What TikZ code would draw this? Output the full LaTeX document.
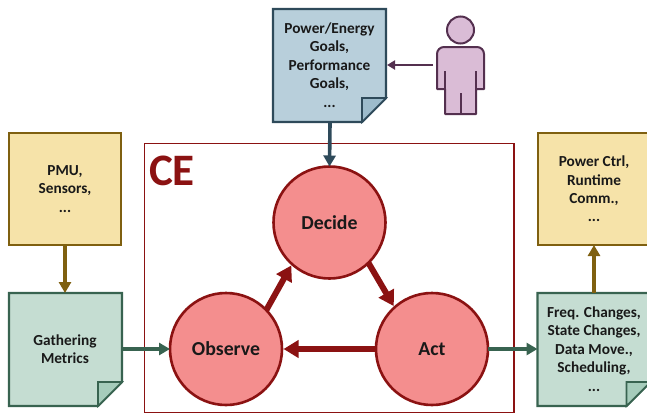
\documentclass[tikz,border=0pt]{standalone}
\usepackage{fontspec}
\setmainfont{Carlito}
\usetikzlibrary{arrows.meta}
\definecolor{bluefill}{HTML}{B8CFDB}
\definecolor{bluefold}{HTML}{9DBBCB}
\definecolor{bluedark}{HTML}{2E4A5A}
\definecolor{greenfill}{HTML}{C5DDD2}
\definecolor{greenfold}{HTML}{A6CCBB}
\definecolor{greendark}{HTML}{386350}
\definecolor{yellowfill}{HTML}{F6E3A9}
\definecolor{yellowdark}{HTML}{7F6010}
\definecolor{purplefill}{HTML}{DABCD6}
\definecolor{purpledark}{HTML}{54304F}
\definecolor{redfill}{HTML}{F48E8E}
\definecolor{reddark}{HTML}{8B1212}
\tikzset{
  boxlabel/.style={font=\fontsize{15.3}{18.4}\selectfont\bfseries, align=center, text=black!90, inner sep=0pt},
  yellowbox/.style={boxlabel, draw=yellowdark, fill=yellowfill, line width=2.4pt, minimum width=112pt, minimum height=112pt, outer sep=0pt, anchor=north west},
  phase/.style={circle, draw=reddark, fill=redfill, line width=2.6pt, minimum size=112pt, inner sep=0pt, outer sep=0pt, font=\fontsize{19.8}{22}\selectfont\bfseries, text=black!90},
  flow/.style={-{Triangle[length=11pt,width=12pt]}, line width=#1},
  flow/.default=3.6pt,
  heavy/.style={-{Triangle[length=15pt,width=17pt]}, line width=6pt, reddark, shorten >=1.5pt},
  note/.style={line width=2.2pt, line join=miter},
}
% name, left, top, fill, fold, stroke
\newcommand{\notesheet}[6]{%
  \path[note, draw=#6, fill=#4] (#2,#3) -- ++(113,0) -- ++(0,89) -- ++(-24,24) -- ++(-89,0) -- cycle;
  \path[note, draw=#6, fill=#5, line width=1.6pt] (#2+89,#3+113) -- ++(0,-24) -- ++(24,0) -- cycle;
  \node[minimum width=113pt, minimum height=113pt, inner sep=0pt, outer sep=0.5pt, anchor=north west] (#1) at (#2,#3) {};
}
\begin{document}
\begin{tikzpicture}[x=1pt,y=-1pt]
\useasboundingbox (0,0) rectangle (647,413);
\clip (0,0) rectangle (647,413);
% CE frame
\node[draw=reddark, line width=1.6pt, minimum width=369.5pt, minimum height=269pt, inner sep=0pt, anchor=north west] (frame) at (143.8,142.5) {};
\node[font=\fontsize{45}{47}\selectfont\bfseries, text=reddark, inner sep=0pt] (ce) at (172,171) {CE};
% notes
\notesheet{goals}{273}{9}{bluefill}{bluefold}{bluedark}
\node[boxlabel] (goalstext) at (329.5,65) {Power/Energy\\Goals,\\Performance\\Goals,\\...};
\notesheet{metrics}{9}{293}{greenfill}{greenfold}{greendark}
\node[boxlabel] (metricstext) at (65,349) {Gathering\\Metrics};
\notesheet{changes}{537.5}{293}{greenfill}{greenfold}{greendark}
\node[boxlabel] (changestext) at (594,349) {Freq. Changes,\\State Changes,\\Data Move.,\\Scheduling,\\...};
% yellow boxes
\node[yellowbox] (pmu) at (9,133) {PMU,\\Sensors,\\...};
\node[yellowbox, minimum width=112pt] (ctrl) at (538,133) {Power Ctrl,\\Runtime\\Comm.,\\...};
% person
\node[circle, draw=purpledark, fill=purplefill, line width=2pt, minimum size=27pt, inner sep=0pt] (head) at (460.5,30) {};
\path[draw=purpledark, fill=purplefill, line width=2pt, line join=round]
  (437,89) -- (437,54) arc[start angle=180,end angle=270,radius=7] -- (477,47) arc[start angle=270,end angle=360,radius=7] -- (484,89) -- (476,89) -- (476,114) -- (445,114) -- (445,89) -- cycle;
\draw[purpledark, line width=2pt] (445,71) -- (445,89) (476,71) -- (476,89) (460.5,93) -- (460.5,114);
\coordinate (personport) at (433,65);
% circles
\node[phase] (decide) at (329.5,222.5) {Decide};
\node[phase] (observe) at (226,349) {Observe};
\node[phase] (act) at (432,349) {Act};
% connectors
\draw[flow=2.2pt, purpledark, -{Triangle[length=8pt,width=9pt]}] (personport) -- (goals.east |- personport);
\draw[flow, bluedark] (goals.south) -- (decide.north);
\draw[flow, yellowdark] (pmu.south) -- (metrics.north -| pmu.south);
\draw[flow, yellowdark] (changes.north -| ctrl.south) -- (ctrl.south);
\draw[flow, greendark] (metrics.east |- observe.west) -- (observe.west);
\draw[flow, greendark] (act.east) -- (changes.west |- act.east);
\draw[heavy] (act.west) -- (observe.east);
\draw[heavy] (decide.-46) -- (act.132);
\draw[heavy] (observe.44) -- (decide.228);
\end{tikzpicture}
\end{document}
